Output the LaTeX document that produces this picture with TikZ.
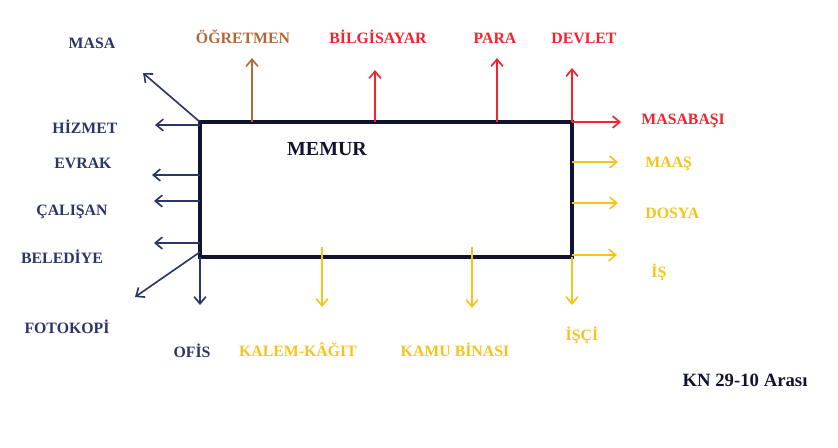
\documentclass[tikz,border=0pt]{standalone}
\usepackage{fontspec}
\setmainfont{Liberation Serif}
\usetikzlibrary{arrows.meta}
\definecolor{lacivert}{HTML}{2B3566}
\definecolor{koyu}{HTML}{10142E}
\definecolor{kahve}{HTML}{B06A38}
\definecolor{kirmizi}{HTML}{F2222E}
\definecolor{sari}{HTML}{F7C31A}
\tikzset{
  ok/.style={line width=1.4pt,-{Straight Barb[length=6pt,width=10pt]}},
  etiket/.style={font=\bfseries\fontsize{13.5}{15}\selectfont, inner sep=1pt},
}

\begin{document}
\begin{tikzpicture}[x=0.03cm,y=-0.03cm]
\useasboundingbox (0,0) rectangle (838,448);
% kutu
\node[draw=koyu, line width=3.5pt, outer sep=0pt, minimum width=11.16cm, minimum height=4.05cm, anchor=north west] (kutu) at (200,122) {};
\node[font=\bfseries\fontsize{17}{19}\selectfont, text=koyu] (memur) at (327,149) {MEMUR};
% ust
\node[etiket, text=kahve] (ogretmen) at (243,37) {ÖĞRETMEN};
\node[etiket, text=kirmizi] (bilgisayar) at (378,37) {BİLGİSAYAR};
\node[etiket, text=kirmizi] (para) at (495,38) {PARA};
\node[etiket, text=kirmizi] (devlet) at (584,38) {DEVLET};
\coordinate (u1) at (252,58);
\coordinate (u2) at (375,70);
\coordinate (u3) at (497,58);
\coordinate (u4) at (572,68);
\draw[ok, kahve] (252,0 |- kutu.north) -- (u1);
\draw[ok, kirmizi] (375,0 |- kutu.north) -- (u2);
\draw[ok, kirmizi] (497,0 |- kutu.north) -- (u3);
\draw[ok, kirmizi] (kutu.north east) -- (u4);
% sag
\node[etiket, text=kirmizi, anchor=west] (masabasi) at (640,121) {MASABAŞI};
\node[etiket, text=sari, anchor=west] (maas) at (644,164) {MAAŞ};
\node[etiket, text=sari, anchor=west] (dosya) at (644,213) {DOSYA};
\node[etiket, text=sari, anchor=west] (is) at (650,272) {İŞ};
\coordinate (r1) at (621,122);
\coordinate (r2) at (618,162);
\coordinate (r3) at (618,203);
\coordinate (r4) at (617,255);
\draw[ok, kirmizi] (kutu.north east) -- (r1);
\draw[ok, sari] (kutu.east |- 0,162) -- (r2);
\draw[ok, sari] (kutu.east |- 0,203) -- (r3);
\draw[ok, sari] (kutu.east |- 0,255) -- (r4);
% sol
\node[etiket, text=lacivert] (masa) at (92,43) {MASA};
\node[etiket, text=lacivert] (hizmet) at (85,127) {HİZMET};
\node[etiket, text=lacivert] (evrak) at (83,163) {EVRAK};
\node[etiket, text=lacivert] (calisan) at (72,212) {ÇALIŞAN};
\node[etiket, text=lacivert] (belediye) at (62,257) {BELEDİYE};
\node[etiket, text=lacivert] (fotokopi) at (67,327) {FOTOKOPİ};
\coordinate (l1) at (143,73);
\coordinate (l2) at (155,125);
\coordinate (l3) at (152,175);
\coordinate (l4) at (154,201);
\coordinate (l5) at (154,243);
\coordinate (l6) at (135,297);
\draw[ok, lacivert] (kutu.north west) -- (l1);
\draw[ok, lacivert] (kutu.west |- 0,125) -- (l2);
\draw[ok, lacivert] (kutu.west |- 0,175) -- (l3);
\draw[ok, lacivert] (kutu.west |- 0,201) -- (l4);
\draw[ok, lacivert] (kutu.west |- 0,243) -- (l5);
\draw[ok, lacivert] (kutu.west |- 0,252) -- (l6);
% alt
\node[etiket, text=lacivert] (ofis) at (192,351) {OFİS};
\node[etiket, text=sari] (kalem) at (298,350) {KALEM-KÂĞIT};
\node[etiket, text=sari] (kamu) at (455,350) {KAMU BİNASI};
\node[etiket, text=sari] (isci) at (582,335) {İŞÇİ};
\coordinate (d1) at (200,305);
\coordinate (d2) at (322,307);
\coordinate (d3) at (472,308);
\coordinate (d4) at (572,305);
\draw[ok, lacivert] (kutu.south west) -- (d1);
\draw[ok, sari] (322,247) -- (d2);
\draw[ok, sari] (472,247) -- (d3);
\draw[ok, sari] (kutu.south east) -- (d4);
% not
\node[font=\bfseries\fontsize{16}{18}\selectfont, text=koyu] (not) at (745,380) {KN 29-10 Arası};
\end{tikzpicture}
\end{document}
